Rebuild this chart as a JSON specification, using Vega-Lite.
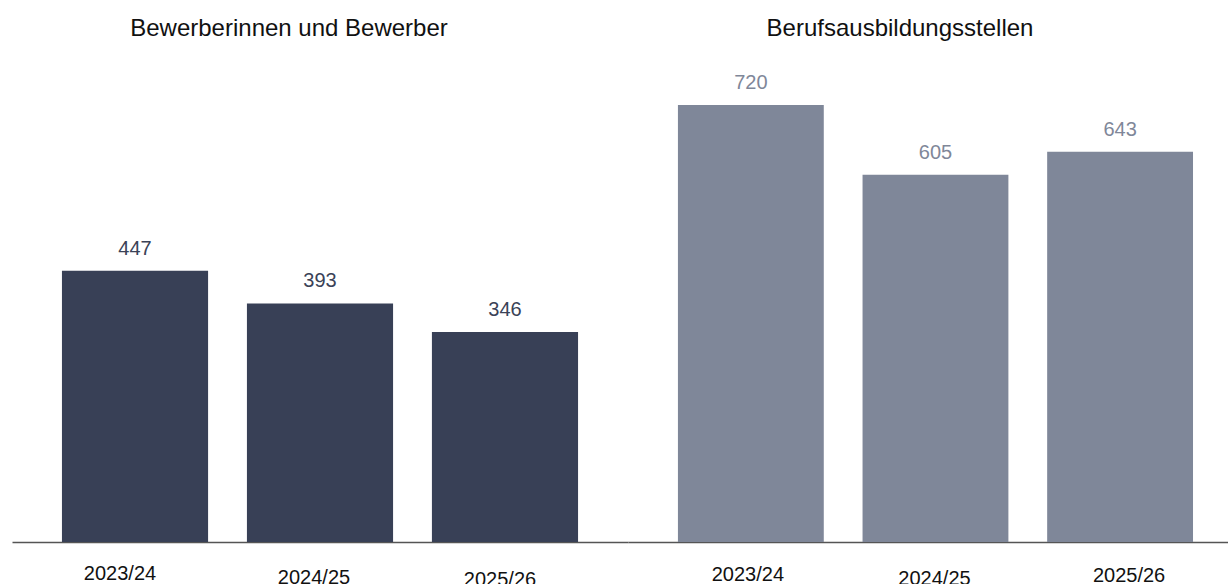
{
  "$schema": "https://vega.github.io/schema/vega-lite/v6.json",
  "padding": {"left": 12, "top": 17, "right": 0, "bottom": -5},
  "spacing": 0,
  "datasets": {
    "d": [
      {"gruppe": "Bewerberinnen und Bewerber", "jahr": "2023/24", "wert": 447},
      {"gruppe": "Bewerberinnen und Bewerber", "jahr": "2024/25", "wert": 393},
      {"gruppe": "Bewerberinnen und Bewerber", "jahr": "2025/26", "wert": 346},
      {"gruppe": "Berufsausbildungsstellen", "jahr": "2023/24", "wert": 720},
      {"gruppe": "Berufsausbildungsstellen", "jahr": "2024/25", "wert": 605},
      {"gruppe": "Berufsausbildungsstellen", "jahr": "2025/26", "wert": 643}
    ]
  },
  "config": {
    "view": {"stroke": null},
    "font": "Liberation Sans",
    "title": {"font": "Liberation Sans", "fontSize": 24, "fontWeight": "normal", "color": "#111111", "offset": 19}
  },
  "hconcat": [
    {
      "width": 616,
      "height": 482,
      "title": {"text": "Bewerberinnen und Bewerber", "dx": -31},
      "data": {"name": "d"},
      "transform": [{"filter": "datum.gruppe == 'Bewerberinnen und Bewerber'"}],
      "encoding": {
        "x": {
          "field": "jahr", "type": "nominal", "sort": null,
          "scale": {"paddingInner": 0.21, "paddingOuter": 0.27},
          "axis": {
            "title": null, "ticks": false, "labelAngle": 0,
            "labelFont": "Liberation Sans", "labelFontSize": 20, "labelColor": "#111111",
            "labelBaseline": "top",
            "labelPadding": {"expr": "datum.value == '2023/24' ? 21 : datum.value == '2024/25' ? 25 : 27"},
            "labelOffset": {"expr": "datum.value == '2023/24' ? -15 : datum.value == '2024/25' ? -6 : -5"},
            "domainColor": "#555555", "domainWidth": 1.5
          }
        },
        "y": {
          "field": "wert", "type": "quantitative",
          "scale": {"domain": [0, 794.2], "nice": false, "zero": true},
          "axis": null
        }
      },
      "layer": [
        {"mark": {"type": "bar", "color": "#384056"}},
        {
          "mark": {"type": "text", "baseline": "alphabetic", "dy": -16, "fontSize": 20, "color": "#3a4257", "font": "Liberation Sans"},
          "encoding": {"text": {"field": "wert", "type": "quantitative"}}
        }
      ]
    },
    {
      "width": 600,
      "height": 482,
      "title": {"text": "Berufsausbildungsstellen", "dx": -28},
      "data": {"name": "d"},
      "transform": [{"filter": "datum.gruppe == 'Berufsausbildungsstellen'"}],
      "encoding": {
        "x": {
          "field": "jahr", "type": "nominal", "sort": null,
          "scale": {"paddingInner": 0.21, "paddingOuter": 0.23, "align": 0.588},
          "axis": {
            "title": null, "ticks": false, "labelAngle": 0,
            "labelFont": "Liberation Sans", "labelFontSize": 20, "labelColor": "#111111",
            "labelBaseline": "top",
            "labelPadding": {"expr": "datum.value == '2023/24' ? 22 : datum.value == '2024/25' ? 26 : 23"},
            "labelOffset": {"expr": "datum.value == '2023/24' ? -3 : datum.value == '2024/25' ? -1 : 9"},
            "domainColor": "#555555", "domainWidth": 1.5
          }
        },
        "y": {
          "field": "wert", "type": "quantitative",
          "scale": {"domain": [0, 794.2], "nice": false, "zero": true},
          "axis": null
        }
      },
      "layer": [
        {"mark": {"type": "bar", "color": "#7f8799"}},
        {
          "mark": {"type": "text", "baseline": "alphabetic", "dy": -16, "fontSize": 20, "color": "#7f8799", "font": "Liberation Sans"},
          "encoding": {"text": {"field": "wert", "type": "quantitative"}}
        }
      ]
    }
  ]
}
